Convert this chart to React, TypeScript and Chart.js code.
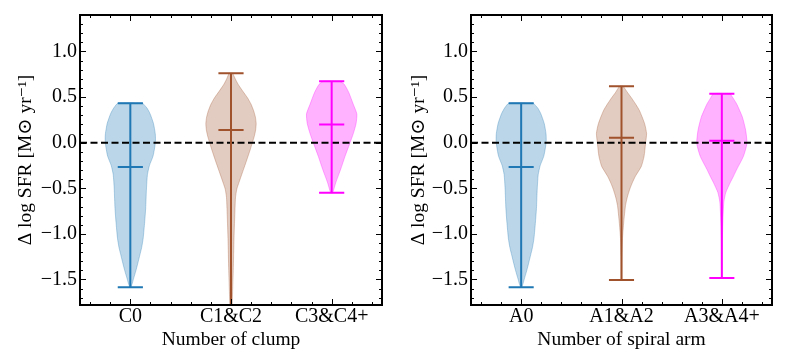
import React, { useEffect, useRef } from "react";
import { Chart, registerables } from "chart.js";
Chart.register(...registerables);

const FONT = "'Liberation Serif', 'Times New Roman', 'DejaVu Serif', serif";

// ---------------- data ----------------
const clumpCategories = ["C0", "C1&C2", "C3&C4+"];
const armCategories = ["A0", "A1&A2", "A3&A4+"];
const xPositions = [1, 2, 3];
const yTickValues = [-1.5, -1.0, -0.5, 0.0, 0.5, 1.0];

const clumpMax = [0.433, 0.76, 0.673];
const clumpMin = [-1.585, -2.2, -0.549];
const clumpMedian = [-0.266, 0.14, 0.2];

const armMax = [0.433, 0.62, 0.537];
const armMin = [-1.585, -1.505, -1.485];
const armMedian = [-0.266, 0.053, 0.02];

// violin profiles: value levels (top -> bottom) and relative half-width
const c0Levels = [0.433, 0.38, 0.32, 0.21, 0.1, 0.03, -0.05, -0.15, -0.25, -0.35, -0.51, -0.72, -0.87, -1.05, -1.15, -1.23, -1.32, -1.405, -1.5, -1.55, -1.585];
const c0Density = [0.49, 0.66, 0.78, 0.92, 0.99, 1.0, 0.97, 0.9, 0.76, 0.68, 0.64, 0.61, 0.57, 0.51, 0.45, 0.38, 0.3, 0.22, 0.12, 0.07, 0.02];

const c12Levels = [0.76, 0.7, 0.637, 0.56, 0.49, 0.42, 0.35, 0.28, 0.21, 0.14, 0.064, -0.08, -0.22, -0.37, -0.45, -0.51, -0.6, -0.72, -1.05, -1.4, -1.76, -2.2];
const c12Density = [0.07, 0.17, 0.29, 0.48, 0.66, 0.8, 0.9, 0.97, 1.0, 0.98, 0.92, 0.76, 0.59, 0.4, 0.3, 0.23, 0.18, 0.16, 0.12, 0.09, 0.05, 0.02];

const c34Levels = [0.673, 0.64, 0.55, 0.42, 0.315, 0.21, 0.1, -0.008, -0.15, -0.29, -0.44, -0.549];
const c34Density = [0.33, 0.5, 0.68, 0.86, 1.0, 0.97, 0.86, 0.72, 0.53, 0.36, 0.16, 0.04];

const a0Levels = [0.433, 0.38, 0.32, 0.21, 0.1, 0.03, -0.05, -0.15, -0.25, -0.35, -0.51, -0.72, -0.87, -1.05, -1.15, -1.23, -1.32, -1.405, -1.5, -1.55, -1.585];
const a0Density = [0.49, 0.66, 0.78, 0.92, 0.99, 1.0, 0.97, 0.9, 0.76, 0.68, 0.64, 0.61, 0.57, 0.51, 0.45, 0.38, 0.3, 0.22, 0.12, 0.07, 0.02];

const a12Levels = [0.62, 0.55, 0.49, 0.42, 0.35, 0.21, 0.1, -0.008, -0.15, -0.26, -0.37, -0.44, -0.51, -0.6, -0.69, -0.87, -1.05, -1.25, -1.505];
const a12Density = [0.07, 0.24, 0.4, 0.57, 0.72, 0.92, 1.0, 0.96, 0.9, 0.79, 0.55, 0.43, 0.33, 0.23, 0.16, 0.09, 0.04, 0.02, 0.01];

const a34Levels = [0.537, 0.48, 0.42, 0.28, 0.136, -0.008, -0.15, -0.29, -0.37, -0.44, -0.545, -0.65, -0.87, -1.1, -1.485];
const a34Density = [0.33, 0.47, 0.6, 0.82, 0.95, 1.0, 0.86, 0.6, 0.46, 0.33, 0.16, 0.08, 0.04, 0.02, 0.01];

const zeroLine = [0.5, 3.5];

// ---------------- styling ----------------
const colors = [
  [31, 119, 180],
  [160, 82, 45],
  [255, 0, 255],
];
const VIOLIN_HALF = 0.25;
const CAP_HALF = 0.125;

function rgba(c: number[], a: number) {
  return `rgba(${c[0]},${c[1]},${c[2]},${a})`;
}

function bodyPoints(pos: number, levels: number[], dens: number[]) {
  const right = levels.map((v, i) => ({ x: pos + VIOLIN_HALF * dens[i], y: v }));
  const left = levels.map((v, i) => ({ x: pos - VIOLIN_HALF * dens[i], y: v })).reverse();
  return [...right, ...left, right[0]];
}

function barPoints(pos: number, mn: number, mx: number, md: number) {
  return [
    { x: pos - CAP_HALF, y: mx }, { x: pos + CAP_HALF, y: mx }, { x: pos, y: null },
    { x: pos - CAP_HALF, y: mn }, { x: pos + CAP_HALF, y: mn }, { x: pos, y: null },
    { x: pos - CAP_HALF, y: md }, { x: pos + CAP_HALF, y: md }, { x: pos, y: null },
    { x: pos, y: mn }, { x: pos, y: mx },
  ];
}

const frameTicks = {
  id: "frameTicks",
  afterDatasetsDraw(chart: any) {
    const { ctx, chartArea: a, scales } = chart;
    const xs = scales.x;
    const ys = scales.y;
    ctx.save();
    ctx.strokeStyle = "#000";
    ctx.lineWidth = 1;
    const major = 6;
    const minor = 3;
    ctx.beginPath();
    for (let k = -17; k <= 13; k++) {
      const len = k % 5 === 0 ? major : minor;
      const py = Math.round(ys.getPixelForValue(k / 10)) + 0.5;
      ctx.moveTo(a.left, py); ctx.lineTo(a.left + len, py);
      ctx.moveTo(a.right, py); ctx.lineTo(a.right - len, py);
    }
    for (let k = 3; k <= 17; k++) {
      const v = k / 5;
      const len = k % 5 === 0 ? major : minor;
      const px = Math.round(xs.getPixelForValue(v)) + 0.5;
      ctx.moveTo(px, a.bottom); ctx.lineTo(px, a.bottom - len);
      ctx.moveTo(px, a.top); ctx.lineTo(px, a.top + len);
    }
    ctx.stroke();
    ctx.lineWidth = 2;
    ctx.strokeRect(a.left, a.top, a.right - a.left, a.bottom - a.top);
    ctx.restore();
  },
};

type PanelProps = {
  categories: string[];
  xTitle: string;
  mins: number[];
  maxs: number[];
  medians: number[];
  levels: number[][];
  densities: number[][];
  width: number;
  left: number;
  padRight: number;
  yTitlePad: number;
};

function Panel(p: PanelProps) {
  const ref = useRef<HTMLCanvasElement>(null);
  useEffect(() => {
    if (!ref.current) return;
    const datasets: any[] = [];
    xPositions.forEach((pos, i) => {
      datasets.push({
        data: barPoints(pos, p.mins[i], p.maxs[i], p.medians[i]),
        borderColor: rgba(colors[i], 1),
        borderWidth: 2,
        fill: false,
        spanGaps: false,
        tension: 0.0001,
        order: 1,
      });
    });
    datasets.push({
      data: zeroLine.map((x) => ({ x, y: 0 })),
      borderColor: "#000",
      borderWidth: 2,
      borderDash: [7, 3.5],
      fill: false,
      order: 2,
    });
    xPositions.forEach((pos, i) => {
      datasets.push({
        data: bodyPoints(pos, p.levels[i], p.densities[i]),
        borderColor: rgba(colors[i], 0.3),
        backgroundColor: rgba(colors[i], 0.3),
        borderWidth: 1,
        fill: "shape",
        tension: 0.2,
        order: 3,
      });
    });
    const tickFont = { family: FONT, size: 20 };
    const titleFont = { family: FONT, size: 19.5 };
    const chart = new Chart(ref.current, {
      type: "line",
      data: { datasets },
      options: {
        responsive: false,
        animation: false,
        devicePixelRatio: 1,
        layout: { padding: { left: 0, right: p.padRight, top: 9, bottom: 0 } },
        plugins: { legend: { display: false }, tooltip: { enabled: false } },
        elements: { point: { radius: 0, hoverRadius: 0 } },
        scales: {
          x: {
            type: "linear",
            min: 0.5,
            max: 3.5,
            afterBuildTicks: (s: any) => {
              s.ticks = xPositions.map((v) => ({ value: v }));
            },
            afterFit: (s: any) => {
              s.height = 53;
            },
            grid: { display: false, drawTicks: false },
            border: { display: false },
            ticks: {
              autoSkip: false,
              maxRotation: 0,
              padding: 0,
              color: "#000",
              font: tickFont,
              callback: (v: any) => p.categories[Math.round(Number(v)) - 1] ?? "",
            },
            title: {
              display: true,
              text: p.xTitle,
              color: "#000",
              font: titleFont,
              padding: { top: 0, bottom: 6.3 },
            },
          },
          y: {
            type: "linear",
            min: -1.78,
            max: 1.4,
            afterBuildTicks: (s: any) => {
              s.ticks = yTickValues.map((v) => ({ value: v }));
            },
            afterFit: (s: any) => {
              s.width = p.left;
            },
            grid: { display: false, drawTicks: false },
            border: { display: false },
            ticks: {
              autoSkip: false,
              padding: 3,
              color: "#000",
              font: tickFont,
              callback: (v: any) => {
                const n = Number(v);
                return (n < -1e-9 ? "\u2212" : "") + Math.abs(n).toFixed(1);
              },
            },
            title: {
              display: true,
              text: "\u0394 log SFR [M\u2299 yr\u207B\u00B9]",
              color: "#000",
              font: titleFont,
              padding: { top: p.yTitlePad, bottom: 0 },
            },
          },
        },
      } as any,
      plugins: [frameTicks],
    });
    return () => chart.destroy();
  }, []);
  return <canvas ref={ref} width={p.width} height={358} style={{ display: "block" }} />;
}

export default function App() {
  return (
    <div style={{ position: "absolute", left: 0, top: 0, width: 799, height: 358, background: "#fff", display: "flex" }}>
      <Panel
        categories={clumpCategories}
        xTitle="Number of clump"
        mins={clumpMin}
        maxs={clumpMax}
        medians={clumpMedian}
        levels={[c0Levels, c12Levels, c34Levels]}
        densities={[c0Density, c12Density, c34Density]}
        width={400}
        left={80}
        padRight={18}
        yTitlePad={14.3}
      />
      <Panel
        categories={armCategories}
        xTitle="Number of spiral arm"
        mins={armMin}
        maxs={armMax}
        medians={armMedian}
        levels={[a0Levels, a12Levels, a34Levels]}
        densities={[a0Density, a12Density, a34Density]}
        width={399}
        left={71}
        padRight={27}
        yTitlePad={7.3}
      />
    </div>
  );
}
